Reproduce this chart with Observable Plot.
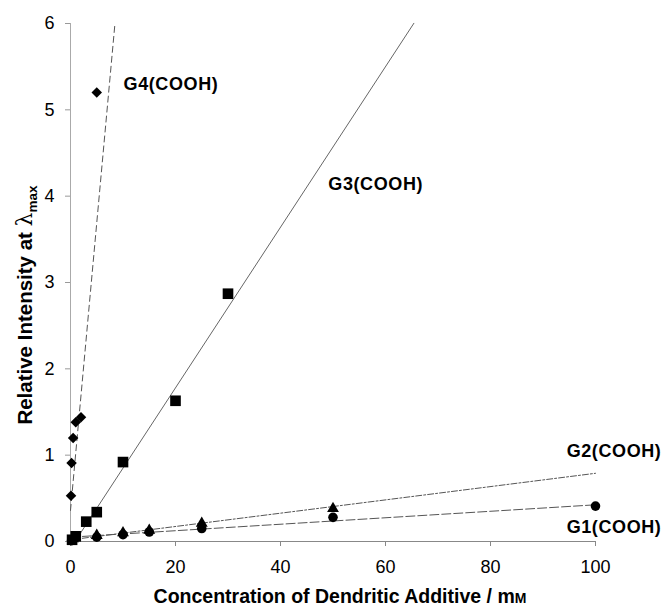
<!DOCTYPE html>
<html><head><meta charset="utf-8">
<script src="https://cdn.jsdelivr.net/npm/d3@7"></script>
<script src="https://cdn.jsdelivr.net/npm/@observablehq/plot@0.6"></script>
<style>body{margin:0;background:#fff}</style>
</head><body><div id="chart"></div>
<script>
// ---- data ----
const xTicks = [0, 20, 40, 60, 80, 100];
const yTicks = [0, 1, 2, 3, 4, 5, 6];

const g1x = [0.2, 5, 10, 15, 25, 50, 100];
const g1y = [0.01, 0.05, 0.08, 0.11, 0.15, 0.28, 0.41];
const g2x = [0.5, 5, 10, 15, 25, 50];
const g2y = [0.03, 0.07, 0.10, 0.13, 0.21, 0.38];
const g3x = [0.3, 1, 3, 5, 10, 20, 30];
const g3y = [0.02, 0.06, 0.23, 0.34, 0.92, 1.63, 2.87];
const g4x = [0.1, 0.2, 0.5, 1, 2, 5];
const g4y = [0.53, 0.91, 1.2, 1.38, 1.44, 5.2];

// linear fits: intercept, slope, x-range
const fitNames = ["G1", "G2", "G3", "G4"];
const fitIntercept = [0.05, 0.02, -0.08, 0.36];
const fitSlope = [0.00375, 0.0077, 0.093, 0.666];
const fitX0 = [0, 0, 0.9, 0];
const fitX1 = [100, 100, 65.4, 8.47];
const fitDash = ["9,3", "6,2,2,2", null, "6,4"];
const fitColor = ["#555", "#555", "#666", "#555"];

const labelText = ["G1(COOH)", "G2(COOH)", "G3(COOH)", "G4(COOH)"];
const labelX = [94.5, 94.5, 49.1, 10.1];
const labelY = [0.16, 1.05, 4.14, 5.3];

// ---- build tables ----
const zip = (xs, ys) => xs.map((x, i) => ({x, y: ys[i]}));
const fits = fitNames.map((n, i) => [
  {x: fitX0[i], y: fitIntercept[i] + fitSlope[i] * fitX0[i]},
  {x: fitX1[i], y: fitIntercept[i] + fitSlope[i] * fitX1[i]}
]);
const labels = labelText.map((t, i) => ({t, x: labelX[i], y: labelY[i]}));

const diamond = {
  draw(ctx, size) {
    const h = Math.sqrt(size / 2);
    ctx.moveTo(0, -h); ctx.lineTo(h, 0); ctx.lineTo(0, h); ctx.lineTo(-h, 0); ctx.closePath();
  }
};

const font = "'Liberation Sans', Arial, sans-serif";

const plot = Plot.plot({
  width: 663, height: 609,
  marginLeft: 70, marginRight: 68, marginTop: 23, marginBottom: 68,
  style: {fontFamily: font, fontSize: "18px", background: "#fff", color: "#000", overflow: "visible"},
  x: {domain: [0, 100]},
  y: {domain: [0, 6]},
  marks: [
    Plot.ruleX([0], {stroke: "#aaa", strokeWidth: 1}),
    Plot.ruleY([0], {stroke: "#888", strokeWidth: 1.2}),
    Plot.axisX({ticks: xTicks, tickSize: 5, tickPadding: 14, stroke: "#888", fill: "#000", label: null, fontSize: 18, tickFormat: d => String(d)}),
    Plot.axisY({ticks: yTicks, tickSize: 5, tickPadding: 11, stroke: "#999", fill: "#000", label: null, fontSize: 18, tickFormat: d => String(d)}),
    ...fits.map((f, i) => Plot.line(f, {x: "x", y: "y", stroke: fitColor[i], strokeWidth: 1, strokeDasharray: fitDash[i]})),
    Plot.dot(zip(g1x, g1y), {x: "x", y: "y", symbol: "circle", r: 4.8, fill: "#000"}),
    Plot.dot(zip(g2x, g2y), {x: "x", y: "y", symbol: "triangle", r: 4.4, fill: "#000"}),
    Plot.dot(zip(g3x, g3y), {x: "x", y: "y", symbol: "square", r: 6, fill: "#000"}),
    Plot.dot(zip(g4x, g4y), {x: "x", y: "y", symbol: diamond, r: 4.2, fill: "#000"}),
    Plot.text(labels, {x: "x", y: "y", text: "t", textAnchor: "start", fontWeight: "bold", fontSize: 18, fill: "#000"})
  ]
});

const svg = d3.select(plot);
// slight letter spacing on series labels (the original lettering is wide)
svg.selectAll("g[aria-label='text'] text").attr("letter-spacing", "0.6px");

// axis titles with subscript / small-cap parts
const xt = svg.append("text")
  .attr("x", 340).attr("y", 603)
  .attr("text-anchor", "middle")
  .attr("font-family", font).attr("font-weight", "bold").attr("font-size", 19.5).attr("fill", "#000");
xt.append("tspan").text("Concentration of Dendritic Additive / m");
xt.append("tspan").attr("font-size", 14).text("M");

const yt = svg.append("text")
  .attr("transform", "translate(32,305) rotate(-90)")
  .attr("text-anchor", "middle")
  .attr("font-family", font).attr("font-weight", "bold").attr("font-size", 20.5).attr("fill", "#000");
yt.append("tspan").text("Relative Intensity at ");
yt.append("tspan").attr("font-family", "'DejaVu Serif', serif").attr("font-weight", "normal").attr("font-size", 22).text("λ");
yt.append("tspan").attr("font-size", 13.5).attr("dy", 5).text("max");

document.getElementById("chart").appendChild(plot);
</script>
</body></html>
